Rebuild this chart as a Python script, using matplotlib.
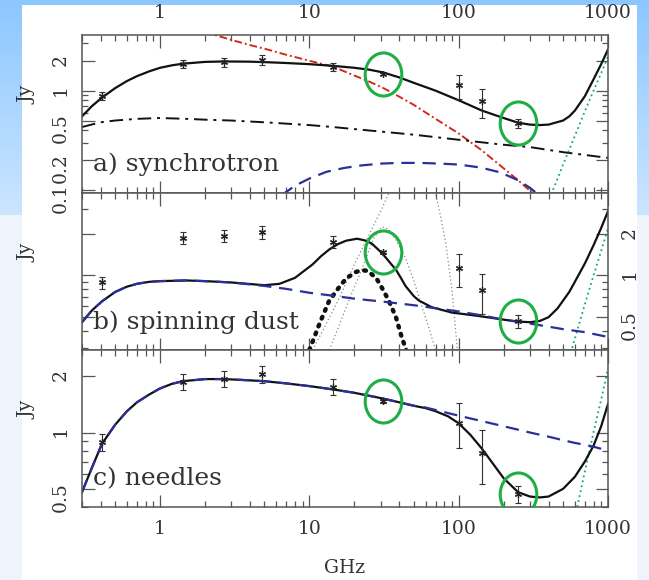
import matplotlib.pyplot as plt
import numpy as np
from matplotlib.path import Path
from matplotlib.ticker import LogLocator, NullFormatter

plt.rcParams['font.family'] = ['DejaVu Serif']

# measured flux densities (GHz, Jy)
obs_freq = [0.408, 1.42, 2.7, 4.85, 14.35, 31, 100, 143, 250]
obs_flux = [0.89, 1.87, 1.94, 2.05, 1.75, 1.47, 1.13, 0.78, 0.47]
obs_err = [0.09, 0.19, 0.2, 0.22, 0.17, 0.04, 0.3, 0.25, 0.05]
circled_freq = [31, 250]

# thermal dust, same in every panel
dust_freq = [380, 450, 500, 600, 700, 800, 900, 1000]
dust_flux = [0.065, 0.12, 0.18, 0.35, 0.62, 1.0, 1.5, 2.2]

# a) synchrotron model
sync_total_freq = [0.3, 0.35, 0.408, 0.5, 0.6, 0.7, 0.85, 1, 1.2, 1.42,
                   2, 2.7, 4, 5, 7, 10, 14.35, 20, 25, 31,
                   40, 50, 70, 100, 143, 200, 250, 300, 350, 400,
                   500, 550, 600, 700, 800, 900, 1000]
sync_total_flux = [0.55, 0.7, 0.85, 1.06, 1.25, 1.4, 1.57, 1.7, 1.8, 1.87,
                   1.95, 1.97, 1.96, 1.94, 1.9, 1.85, 1.78, 1.7, 1.63, 1.53,
                   1.36, 1.2, 1.0, 0.8, 0.63, 0.53, 0.475, 0.455, 0.45, 0.455,
                   0.5, 0.55, 0.63, 0.88, 1.3, 1.85, 2.6]
sync_freq = [2.0, 2.33, 3, 4, 5, 7, 10, 14.35, 20, 25,
             31, 40, 50, 70, 100, 143, 200, 250, 300, 350]
sync_flux = [4.0, 3.64, 3.25, 2.88, 2.65, 2.3, 2.0, 1.75, 1.42, 1.24,
             1.07, 0.87, 0.72, 0.52, 0.37, 0.25, 0.165, 0.125, 0.098, 0.08]
ff_freq = [0.3, 0.4, 0.5, 0.7, 1, 1.5, 2, 3, 5, 10, 14.35, 20, 50, 100, 200, 300, 500, 1000]
ff_flux = [0.43, 0.48, 0.5, 0.52, 0.53, 0.52, 0.51, 0.5, 0.48, 0.45, 0.43, 0.41, 0.36,
           0.32, 0.285, 0.27, 0.24, 0.21]
spin_a_freq = [6.5, 8, 10, 13, 17, 22, 30, 40, 55, 75, 100, 140, 190, 250, 300, 340]
spin_a_flux = [0.088, 0.11, 0.13, 0.152, 0.166, 0.176, 0.184, 0.187, 0.187, 0.184,
               0.18, 0.168, 0.15, 0.125, 0.105, 0.09]

# b) spinning dust model
base_b_freq = [0.3, 0.35, 0.408, 0.5, 0.6, 0.7, 0.85, 1, 1.5, 2, 3, 5, 7, 10, 15, 20,
               30, 50, 70, 100, 150, 200, 300, 500, 700, 1000]
base_b_flux = [0.46, 0.56, 0.65, 0.76, 0.83, 0.87, 0.9, 0.91, 0.92, 0.91, 0.89, 0.84,
               0.8, 0.75, 0.71, 0.68, 0.65, 0.61, 0.58, 0.55, 0.51, 0.48, 0.45, 0.41,
               0.39, 0.36]
total_b_freq = [0.3, 0.35, 0.408, 0.5, 0.6, 0.7, 0.85, 1, 1.5, 2,
                3, 5, 6.3, 8, 10.5, 12, 13.6, 15.5, 17.6, 20.9,
                24, 26.3, 30, 32.6, 35, 38, 41, 44, 50, 54,
                66, 90, 136, 200, 250, 300, 350, 400, 460, 550,
                600, 700, 800, 900, 1000]
total_b_flux = [0.46, 0.56, 0.65, 0.76, 0.83, 0.87, 0.9, 0.91, 0.92, 0.91,
                0.89, 0.85, 0.87, 0.96, 1.2, 1.38, 1.54, 1.68, 1.78, 1.84,
                1.78, 1.69, 1.48, 1.34, 1.22, 1.1, 0.96, 0.84, 0.71, 0.66,
                0.59, 0.54, 0.51, 0.48, 0.465, 0.46, 0.47, 0.5, 0.58, 0.76,
                0.9, 1.22, 1.65, 2.2, 2.9]
spin_b_freq = [10, 11.7, 13.6, 15.8, 17.6, 20.5, 22.5, 24.5, 28, 30.5, 34, 38, 41.5, 45]
spin_b_flux = [0.29, 0.45, 0.66, 0.82, 0.95, 1.06, 1.09, 1.08, 0.96, 0.82, 0.66, 0.5,
               0.36, 0.28]
alt1_freq = [10.5, 13, 16, 20, 25, 30, 34, 40, 50, 60, 70, 76, 82, 90, 98]
alt1_flux = [0.29, 0.45, 0.7, 1.2, 1.95, 2.9, 3.9, 5.5, 6.5, 5.6, 3.9, 2.6, 1.7, 0.8, 0.29]
alt2_freq = [13.6, 16, 19, 22, 24, 27, 30.5, 34, 38, 44, 50, 57, 63, 70]
alt2_flux = [0.29, 0.45, 0.72, 1.05, 1.34, 1.85, 2.24, 2.15, 1.8, 1.34, 0.92, 0.59,
             0.42, 0.29]

# c) needles model
total_c_freq = [0.3, 0.35, 0.408, 0.5, 0.6, 0.7, 0.85, 1, 1.2, 1.42,
                2, 2.7, 4, 5, 7, 10, 14.35, 20, 31, 40,
                50, 60, 70, 85, 100, 120, 143, 170, 200, 250,
                300, 350, 400, 500, 600, 700, 800, 900, 1000]
total_c_flux = [0.48, 0.65, 0.87, 1.1, 1.3, 1.45, 1.6, 1.72, 1.82, 1.88,
                1.93, 1.93, 1.9, 1.88, 1.83, 1.77, 1.7, 1.63, 1.52, 1.45,
                1.39, 1.35, 1.3, 1.22, 1.12, 0.97, 0.82, 0.68, 0.57, 0.48,
                0.455, 0.45, 0.455, 0.5, 0.58, 0.7, 0.85, 1.08, 1.42]
base_c_freq = [0.3, 0.35, 0.408, 0.5, 0.6, 0.7, 0.85, 1, 1.2, 1.42,
               2, 2.7, 4, 5, 7, 10, 14.35, 20, 31, 40,
               50, 60, 70, 85, 100, 150, 200, 300, 400, 500,
               600, 700, 800, 1000]
base_c_flux = [0.48, 0.65, 0.87, 1.1, 1.3, 1.45, 1.6, 1.72, 1.82, 1.88,
               1.93, 1.93, 1.9, 1.88, 1.83, 1.77, 1.7, 1.63, 1.52, 1.45,
               1.39, 1.36, 1.32, 1.27, 1.23, 1.14, 1.08, 1.0, 0.95, 0.91,
               0.88, 0.86, 0.84, 0.8]

W, H = 649, 580
fig = plt.figure(figsize=(W / 100, H / 100), dpi=100)

# slide backdrop: blue margins fading downwards, white page for the figure
bg = fig.add_axes([0, 0, 1, 1], zorder=-5)
img = np.ones((H, W, 3))
top_col = np.array([0.55, 0.78, 1.0])
mid_col = np.array([0.80, 0.90, 1.0])
low_col = np.array([0.94, 0.96, 0.99])
for y in range(H):
    if y < 215:
        col = top_col + (mid_col - top_col) * y / 215
    else:
        col = low_col
    img[y, :] = col
img[5:, 22:637] = 1.0
bg.imshow(img, extent=(0, 1, 0, 1), aspect='auto', interpolation='bilinear')
bg.axis('off')


def frame(top, bottom):
    return [82 / W, 1 - bottom / H, 526 / W, (bottom - top) / H]


ax_a = fig.add_axes(frame(35, 193))
ax_b = fig.add_axes(frame(193, 350))
ax_c = fig.add_axes(frame(350, 507))

ring = Path.unit_circle()
oval = Path(ring.vertices * [0.85, 1.0], ring.codes)


def style_axes(ax, ylim, yticks):
    ax.set_xscale('log')
    ax.set_yscale('log')
    ax.set_xlim(0.3, 1000)
    ax.set_ylim(*ylim)
    ax.set_xticks([1, 10, 100, 1000])
    ax.set_xticklabels(['1', '10', '100', '1000'])
    ax.set_yticks(yticks)
    ax.set_yticklabels(['%g' % t for t in yticks])
    ax.xaxis.set_minor_locator(LogLocator(base=10, subs=np.arange(2, 10), numticks=20))
    ax.yaxis.set_minor_locator(LogLocator(base=10, subs=np.arange(2, 10), numticks=20))
    ax.xaxis.set_minor_formatter(NullFormatter())
    ax.yaxis.set_minor_formatter(NullFormatter())
    ax.tick_params(which='both', direction='in', top=True, right=True,
                   color='#555555', width=0.9, labelsize=13.5, labelcolor='#333333')
    ax.tick_params(which='major', length=9, pad=9)
    ax.tick_params(which='minor', length=4.5)
    ax.tick_params(axis='y', labelrotation=90)
    ax.tick_params(labelbottom=False, labeltop=False, labelleft=False, labelright=False)
    for s in ax.spines.values():
        s.set_color('#555555')
        s.set_linewidth(1.1)
    ax.set_ylabel('Jy', fontsize=13.5, color='#333333')
    ax.yaxis.set_label_coords(-0.086, 0.62)


def draw_data(ax):
    ax.errorbar(obs_freq, obs_flux, yerr=obs_err, fmt='none', ecolor='#333333',
                elinewidth=0.8, capsize=2.5, capthick=0.8, zorder=4)
    ax.plot(obs_freq, obs_flux, ls='none', marker=(6, 2, 0), ms=5, mec='#222222',
            mew=0.9, zorder=5)
    flux = [obs_flux[obs_freq.index(f)] for f in circled_freq]
    ax.plot(circled_freq, flux, ls='none', marker=oval, ms=31, mfc='none',
            mec='#1fae45', mew=2.2, zorder=6)


def draw_dust(ax):
    ax.plot(dust_freq, dust_flux, color='#19a37f', lw=1.3, ls=(0, (1, 1.8)))


blue = '#2a2f9a'

# a) synchrotron
style_axes(ax_a, (0.093, 3.64), [0.1, 0.2, 0.5, 1, 2])
ax_a.tick_params(labeltop=True, labelleft=True)
ax_a.plot(sync_freq, sync_flux, color='#d42a1c', lw=1.4, ls=(0, (4, 1.5, 1, 1.5)))
ax_a.plot(ff_freq, ff_flux, color='#111111', lw=1.4, ls=(0, (7, 3, 1.5, 3)))
ax_a.plot(spin_a_freq, spin_a_flux, color=blue, lw=1.6, ls=(0, (6, 3.5)))
draw_dust(ax_a)
ax_a.plot(sync_total_freq, sync_total_flux, color='#111111', lw=1.6)
draw_data(ax_a)
ax_a.text(0.021, 0.18, 'a) synchrotron', transform=ax_a.transAxes, fontsize=18,
          va='center', color='#333333')

# b) spinning dust
style_axes(ax_b, (0.29, 3.93), [0.5, 1, 2])
ax_b.tick_params(labelright=True)
ax_b.plot(alt1_freq, alt1_flux, color='#8a8a8a', lw=0.9, ls=(0, (1, 2)))
ax_b.plot(alt2_freq, alt2_flux, color='#8a8a8a', lw=0.9, ls=(0, (1, 2)))
ax_b.plot(spin_b_freq, spin_b_flux, color='#111111', lw=3.2, ls=(0, (0.4, 1.5)),
          dash_capstyle='round')
draw_dust(ax_b)
ax_b.plot(total_b_freq, total_b_flux, color='#111111', lw=1.6)
ax_b.plot(base_b_freq, base_b_flux, color=blue, lw=1.6, ls=(0, (6, 3.5)))
draw_data(ax_b)
ax_b.text(0.021, 0.18, 'b) spinning dust', transform=ax_b.transAxes, fontsize=18,
          va='center', color='#333333')

# c) needles
style_axes(ax_c, (0.40, 2.76), [0.5, 1, 2])
ax_c.tick_params(labelbottom=True, labelleft=True)
draw_dust(ax_c)
ax_c.plot(total_c_freq, total_c_flux, color='#111111', lw=1.6)
ax_c.plot(base_c_freq, base_c_flux, color=blue, lw=1.6, ls=(0, (6, 3.5)))
draw_data(ax_c)
ax_c.text(0.021, 0.18, 'c) needles', transform=ax_c.transAxes, fontsize=18,
          va='center', color='#333333')

fig.text(345 / W, 1 - 568 / H, 'GHz', ha='center', va='center', fontsize=13.5,
         color='#333333')

fig.savefig('out.png', dpi=100)
